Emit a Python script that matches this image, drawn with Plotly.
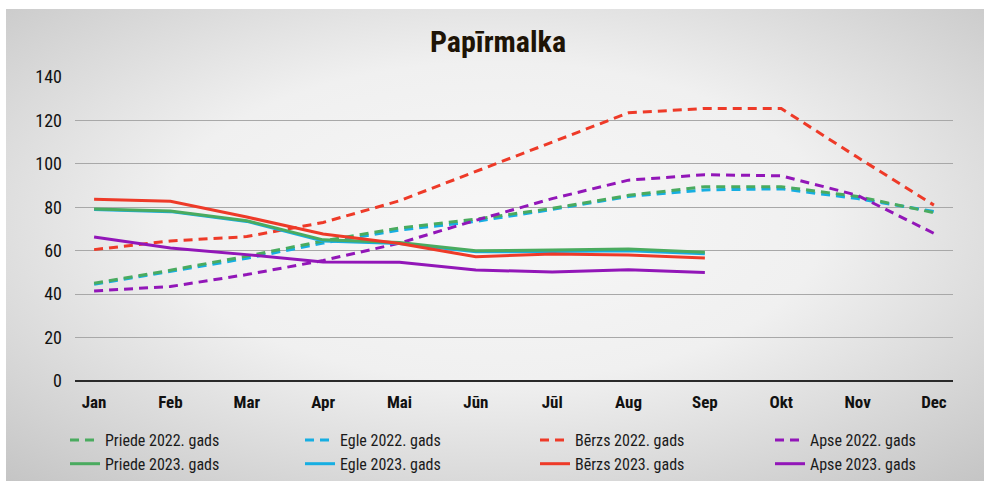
import base64
import plotly.graph_objects as go

months = ["Jan", "Feb", "Mar", "Apr", "Mai", "Jūn", "Jūl", "Aug", "Sep", "Okt", "Nov", "Dec"]

priede_2022 = [45, 51, 57.5, 64.5, 70.5, 74.5, 79.5, 85.5, 89.5, 89.5, 85, 77.5]
egle_2022 = [44.5, 50.5, 56.5, 63.5, 69.5, 73.5, 79, 85, 88, 88.5, 84, 78]
berzs_2022 = [60.5, 64.5, 66.5, 73, 83, 96.5, 110, 123.5, 125.5, 125.5, 103, 81]
apse_2022 = [41.5, 43.5, 49, 55.5, 63.5, 74, 84, 92.5, 95, 94.5, 85.5, 68]

priede_2023 = [79.2, 78.3, 73.8, 65, 63.8, 60, 60.3, 60.8, 59.3]
egle_2023 = [79, 78, 73.5, 64.5, 63.3, 59.5, 59.6, 60, 58.6]
berzs_2023 = [83.7, 82.8, 75.5, 67.7, 63.3, 57.2, 58.5, 58, 56.6]
apse_2023 = [66.3, 61.3, 58.2, 54.8, 54.7, 51.1, 50.2, 51.2, 50]

y_ticks = [0, 20, 40, 60, 80, 100, 120, 140]

GREEN = "#4aab5f"
CYAN = "#16aee2"
RED = "#ee3a28"
PURPLE = "#9216b8"

FONT = "Liberation Sans Narrow, Roboto Condensed, DejaVu Sans Condensed, Arial Narrow, Roboto, sans-serif"

series = [
    # name, x, y, color, dash, legendrank
    ("Egle 2022. gads", months, egle_2022, CYAN, "9px,6px", 2),
    ("Priede 2022. gads", months, priede_2022, GREEN, "9px,6px", 1),
    ("Bērzs 2022. gads", months, berzs_2022, RED, "9px,6px", 3),
    ("Apse 2022. gads", months, apse_2022, PURPLE, "9px,6px", 4),
    ("Egle 2023. gads", months[:9], egle_2023, CYAN, "solid", 6),
    ("Priede 2023. gads", months[:9], priede_2023, GREEN, "solid", 5),
    ("Bērzs 2023. gads", months[:9], berzs_2023, RED, "solid", 7),
    ("Apse 2023. gads", months[:9], apse_2023, PURPLE, "solid", 8),
]

fig = go.Figure()
for name, xs, ys, col, dash, rank in series:
    fig.add_trace(go.Scatter(
        x=xs, y=ys, name=name, mode="lines",
        line=dict(color=col, width=3, dash=dash),
        legendrank=rank,
    ))

svg = """<svg xmlns='http://www.w3.org/2000/svg' width='978' height='472' viewBox='0 0 978 472' preserveAspectRatio='none'>
<defs><radialGradient id='g' cx='0.5' cy='0.45' r='0.75'>
<stop offset='0' stop-color='#f7f7f7'/>
<stop offset='0.45' stop-color='#f0f0f0'/>
<stop offset='1' stop-color='#c4c4c4'/>
</radialGradient></defs>
<rect x='0' y='0' width='978' height='472' fill='url(#g)'/>
</svg>"""
src = "data:image/svg+xml;base64," + base64.b64encode(svg.encode()).decode()

L, R, T, B = 75, 31, 77, 100
W, H = 984, 481
pw = W - L - R
ph = H - T - B

fig.add_layout_image(dict(
    source=src, xref="paper", yref="paper",
    x=(6 - L) / pw, y=(H - B - 9) / ph,
    sizex=(W - 6) / pw, sizey=(H - 9) / ph,
    sizing="stretch", layer="below", xanchor="left", yanchor="top",
))

fig.update_layout(
    width=W, height=H,
    margin=dict(l=L, r=R, t=T, b=B, autoexpand=False),
    paper_bgcolor="white",
    plot_bgcolor="rgba(0,0,0,0)",
    title=dict(text="<b>Papīrmalka</b>", x=(498 - L) / pw, xanchor="center", xref="paper",
               y=(H - 41) / H, yanchor="middle",
               font=dict(family=FONT, size=30, color="#1e1406")),
    font=dict(family=FONT, size=16, color="#1a1a1a"),
    showlegend=True,
    legend=dict(orientation="h", x=(65 - L) / pw, xanchor="left",
                y=(H - B - 423) / ph, yanchor="top",
                entrywidth=190, entrywidthmode="pixels",
                itemwidth=30, tracegroupgap=0,
                bgcolor="rgba(0,0,0,0)",
                font=dict(family=FONT, size=16, color="#1a1a1a")),
    xaxis=dict(type="category", categoryorder="array", categoryarray=months,
               range=[-0.25, 11.25], showgrid=False, showline=False,
               ticks="", tickfont=dict(family=FONT, size=17, color="#111", weight="bold"),
               ticklabelstandoff=9, zeroline=False),
    yaxis=dict(range=[0, 140], tickvals=y_ticks, showgrid=True,
               gridcolor="#a8a8a8", gridwidth=1, zeroline=True,
               zerolinecolor="#2a2a2a", zerolinewidth=1.5, showline=False,
               ticks="", tickfont=dict(family=FONT, size=18, color="#111"),
               ticklabelstandoff=12),
)

fig.write_html("out.html", config={"displayModeBar": False},
               post_script="document.body.style.margin='0';document.body.style.padding='0';")
